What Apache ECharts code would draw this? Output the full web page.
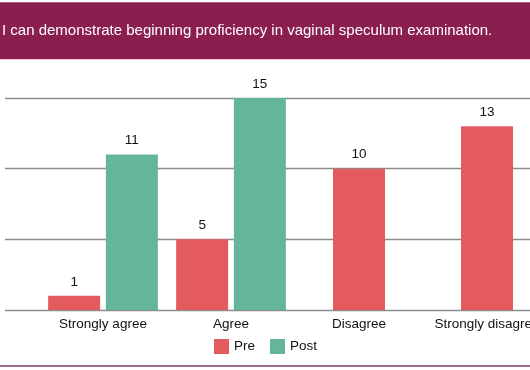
<!DOCTYPE html>
<html>
<head>
<meta charset="utf-8">
<script src="https://cdn.jsdelivr.net/npm/echarts@6/dist/echarts.min.js"></script>
<style>
html,body{margin:0;padding:0;background:#fff;}
#c{width:530px;height:370px;}
</style>
</head>
<body>
<div id="c"></div>
<script>
var title = "I can demonstrate beginning proficiency in vaginal speculum examination.";
var categories = ["Strongly agree", "Agree", "Disagree", "Strongly disagree"];
var preValues = [1, 5, 10, 13];
var postValues = [11, 15, null, null];
var yTicks = [0, 5, 10, 15];

var chart = echarts.init(document.getElementById('c'));
var FONT = '"Liberation Sans", Arial, sans-serif';
var preColor = '#E35B5E';
var postColor = '#63B69A';

var prePaired = preValues.map(function (v, i) { return postValues[i] == null ? '-' : v; });
var preSolo = preValues.map(function (v, i) { return postValues[i] == null ? v : '-'; });
var postData = postValues.map(function (v) { return v == null ? '-' : v; });

var labelCfg = { show: true, position: 'top', distance: 7, color: '#111', fontSize: 13.5, fontFamily: FONT };
var yMax = yTicks[yTicks.length - 1];
var yInt = yTicks[1] - yTicks[0];

chart.setOption({
  animation: false,
  textStyle: { fontFamily: FONT },
  graphic: [
    { type: 'rect', shape: { x: 0, y: 2, width: 530, height: 57 }, style: { fill: '#8A1F4F' }, silent: true },
    { type: 'rect', shape: { x: 0, y: 2, width: 530, height: 1 }, style: { fill: '#B0577F' }, silent: true },
    { type: 'rect', shape: { x: 0, y: 59, width: 530, height: 1 }, style: { fill: '#F3C6DA' }, silent: true },
    { type: 'rect', shape: { x: 0, y: 365, width: 530, height: 2 }, style: { fill: '#9E6E8E' }, silent: true },
    { type: 'text', left: 2, top: 23, style: { text: title, fill: '#ffffff', font: '15px ' + FONT } }
  ],
  legend: {
    data: ['Pre', 'Post'],
    left: 209, top: 334,
    itemWidth: 15, itemHeight: 15, itemGap: 15,
    textStyle: { fontSize: 13.5, color: '#111', fontFamily: FONT },
    icon: 'rect'
  },
  grid: [
    { left: 5, right: -20, top: 98, height: 212, outerBoundsMode: 'none', containLabel: false },
    { left: 39, width: 512, top: 98, height: 212, outerBoundsMode: 'none', containLabel: false }
  ],
  xAxis: [
    { type: 'category', gridIndex: 0, data: categories, show: false },
    { type: 'category', gridIndex: 1, data: categories,
      axisLine: { show: false }, axisTick: { show: false },
      axisLabel: { color: '#111', fontSize: 13.5, margin: 7, fontFamily: FONT, interval: 0 } },
    { type: 'category', gridIndex: 1, data: categories, show: false, position: 'bottom' }
  ],
  yAxis: [
    { type: 'value', gridIndex: 0, min: 0, max: yMax, interval: yInt,
      axisLabel: { show: false }, axisLine: { show: false }, axisTick: { show: false },
      splitLine: { show: true, lineStyle: { color: '#8C8C8C', width: 1.3 } } },
    { type: 'value', gridIndex: 1, min: 0, max: yMax, interval: yInt, show: false, splitLine: { show: false } }
  ],
  series: [
    { name: 'Pre', type: 'bar', xAxisIndex: 1, yAxisIndex: 1, data: prePaired,
      barWidth: 52, barGap: '11%', itemStyle: { color: preColor }, label: labelCfg },
    { name: 'Post', type: 'bar', xAxisIndex: 1, yAxisIndex: 1, data: postData,
      barWidth: 52, barGap: '11%', itemStyle: { color: postColor }, label: labelCfg },
    { name: 'Pre', type: 'bar', xAxisIndex: 2, yAxisIndex: 1, data: preSolo,
      barWidth: 52, itemStyle: { color: preColor }, label: labelCfg }
  ]
});
</script>
</body>
</html>
